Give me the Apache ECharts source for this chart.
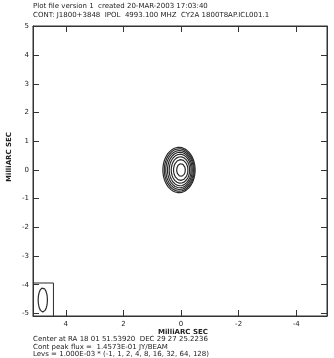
<!DOCTYPE html>
<html>
<head>
<meta charset="utf-8">
<script src="https://cdn.jsdelivr.net/npm/echarts@6/dist/echarts.min.js"></script>
<style>
  html, body { margin: 0; padding: 0; background: #fff; }
  #chart { width: 334px; height: 358px; }
</style>
</head>
<body>
<div id="chart"></div>
<script>
// Relative offsets in milliarcseconds; RA increases to the left.
const xTicks = [-4, -2, 0, 2, 4];
const yTicks = [-5, -4, -3, -2, -1, 0, 1, 2, 3, 4, 5];
const xRange = [-5.07, 5.14];
const yRange = [-5.09, 5.02];

// Contour levels (multiples of the lowest level) and the size of each closed contour.
const levels = [1, 2, 4, 8, 16, 32, 64, 128];
const contourHalfWidth = [0.56, 0.52, 0.48, 0.43, 0.38, 0.32, 0.25, 0.15];
const contourHalfHeight = [0.79, 0.74, 0.68, 0.62, 0.55, 0.46, 0.36, 0.22];
const contourCenterX = [0.07, 0.06, 0.05, 0.04, 0.03, 0.02, 0.01, 0.0];
const contourCenterY = [0.0, 0.0, 0.0, 0.0, 0.0, 0.0, 0.0, 0.0];

// Restoring beam, drawn in the lower-left corner box.
const beamCenter = [4.80, -4.53];
const beamHalfWidth = 0.16;
const beamHalfHeight = 0.42;
const beamBox = [[5.14, -5.09], [4.43, -3.94]];

function ellipse(cx, cy, rx, ry, n) {
  const pts = [];
  for (let i = 0; i <= n; i++) {
    const t = (i / n) * 2 * Math.PI;
    pts.push([cx + rx * Math.cos(t), cy + ry * Math.sin(t)]);
  }
  return pts;
}

const lineColor = '#2a2a2a';
const series = levels.map((lev, i) => ({
  name: 'level ' + lev,
  type: 'line',
  data: ellipse(contourCenterX[i], contourCenterY[i], contourHalfWidth[i], contourHalfHeight[i], 90),
  showSymbol: false,
  silent: true,
  lineStyle: { color: lineColor, width: 1.2 }
}));

series.push({
  name: 'beam',
  type: 'line',
  data: ellipse(beamCenter[0], beamCenter[1], beamHalfWidth, beamHalfHeight, 60),
  showSymbol: false,
  silent: true,
  lineStyle: { color: lineColor, width: 1.2 }
});
series.push({
  name: 'beam box',
  type: 'line',
  data: [
    [beamBox[0][0], beamBox[1][1]],
    [beamBox[1][0], beamBox[1][1]],
    [beamBox[1][0], beamBox[0][1]]
  ],
  showSymbol: false,
  silent: true,
  lineStyle: { color: lineColor, width: 1 }
});

const fmt = v => String(Math.round(v));
const tickStyle = { color: '#333', width: 1 };
const lbl = { fontFamily: 'DejaVu Sans', fontSize: 7, color: '#222' };

const chart = echarts.init(document.getElementById('chart'), null, { renderer: 'canvas' });
chart.setOption({
  animation: false,
  backgroundColor: '#fff',
  grid: { left: 33, right: 7, top: 26, bottom: 42, show: true, borderColor: '#333', borderWidth: 1 },
  xAxis: [
    {
      type: 'value', min: xRange[0], max: xRange[1], inverse: true, position: 'bottom',
      axisLine: { show: true, onZero: false, lineStyle: tickStyle },
      axisTick: { show: true, inside: true, length: 6, lineStyle: tickStyle, customValues: xTicks },
      axisLabel: { ...lbl, margin: 5, formatter: fmt, customValues: xTicks },
      splitLine: { show: false }
    },
    {
      type: 'value', min: xRange[0], max: xRange[1], inverse: true, position: 'top',
      axisLine: { show: true, onZero: false, lineStyle: tickStyle },
      axisTick: { show: true, inside: true, length: 6, lineStyle: tickStyle, customValues: xTicks },
      axisLabel: { show: false },
      splitLine: { show: false }
    }
  ],
  yAxis: [
    {
      type: 'value', min: yRange[0], max: yRange[1], position: 'left',
      axisLine: { show: true, onZero: false, lineStyle: tickStyle },
      axisTick: { show: true, inside: true, length: 6, lineStyle: tickStyle, customValues: yTicks },
      axisLabel: { ...lbl, margin: 4, formatter: fmt, customValues: yTicks },
      splitLine: { show: false }
    },
    {
      type: 'value', min: yRange[0], max: yRange[1], position: 'right',
      axisLine: { show: true, onZero: false, lineStyle: tickStyle },
      axisTick: { show: true, inside: true, length: 6, lineStyle: tickStyle, customValues: yTicks },
      axisLabel: { show: false },
      splitLine: { show: false }
    }
  ],
  graphic: [
    { type: 'text', left: 33, top: 3, style: { text: 'Plot file version 1  created 20-MAR-2003 17:03:40', font: '7px "DejaVu Sans"', fill: '#222' } },
    { type: 'text', left: 33, top: 12, style: { text: 'CONT: J1800+3848  IPOL  4993.100 MHZ  CY2A 1800T8AP.ICL001.1', font: '7px "DejaVu Sans"', fill: '#222' } },
    { type: 'text', left: 158, top: 329, style: { text: 'MilliARC SEC', font: 'bold 7px "DejaVu Sans"', fill: '#222' } },
    { type: 'text', left: 6, top: 132, rotation: Math.PI / 2, style: { text: 'MilliARC SEC', font: 'bold 7px "DejaVu Sans"', fill: '#222' } },
    { type: 'text', left: 33, top: 336, style: { text: 'Center at RA 18 01 51.53920  DEC 29 27 25.2236', font: '7px "DejaVu Sans"', fill: '#222' } },
    { type: 'text', left: 33, top: 344, style: { text: 'Cont peak flux =  1.4573E-01 JY/BEAM', font: '7px "DejaVu Sans"', fill: '#222' } },
    { type: 'text', left: 33, top: 351, style: { text: 'Levs = 1.000E-03 * (-1, 1, 2, 4, 8, 16, 32, 64, 128)', font: '7px "DejaVu Sans"', fill: '#222' } }
  ],
  series: series
});
</script>
</body>
</html>
